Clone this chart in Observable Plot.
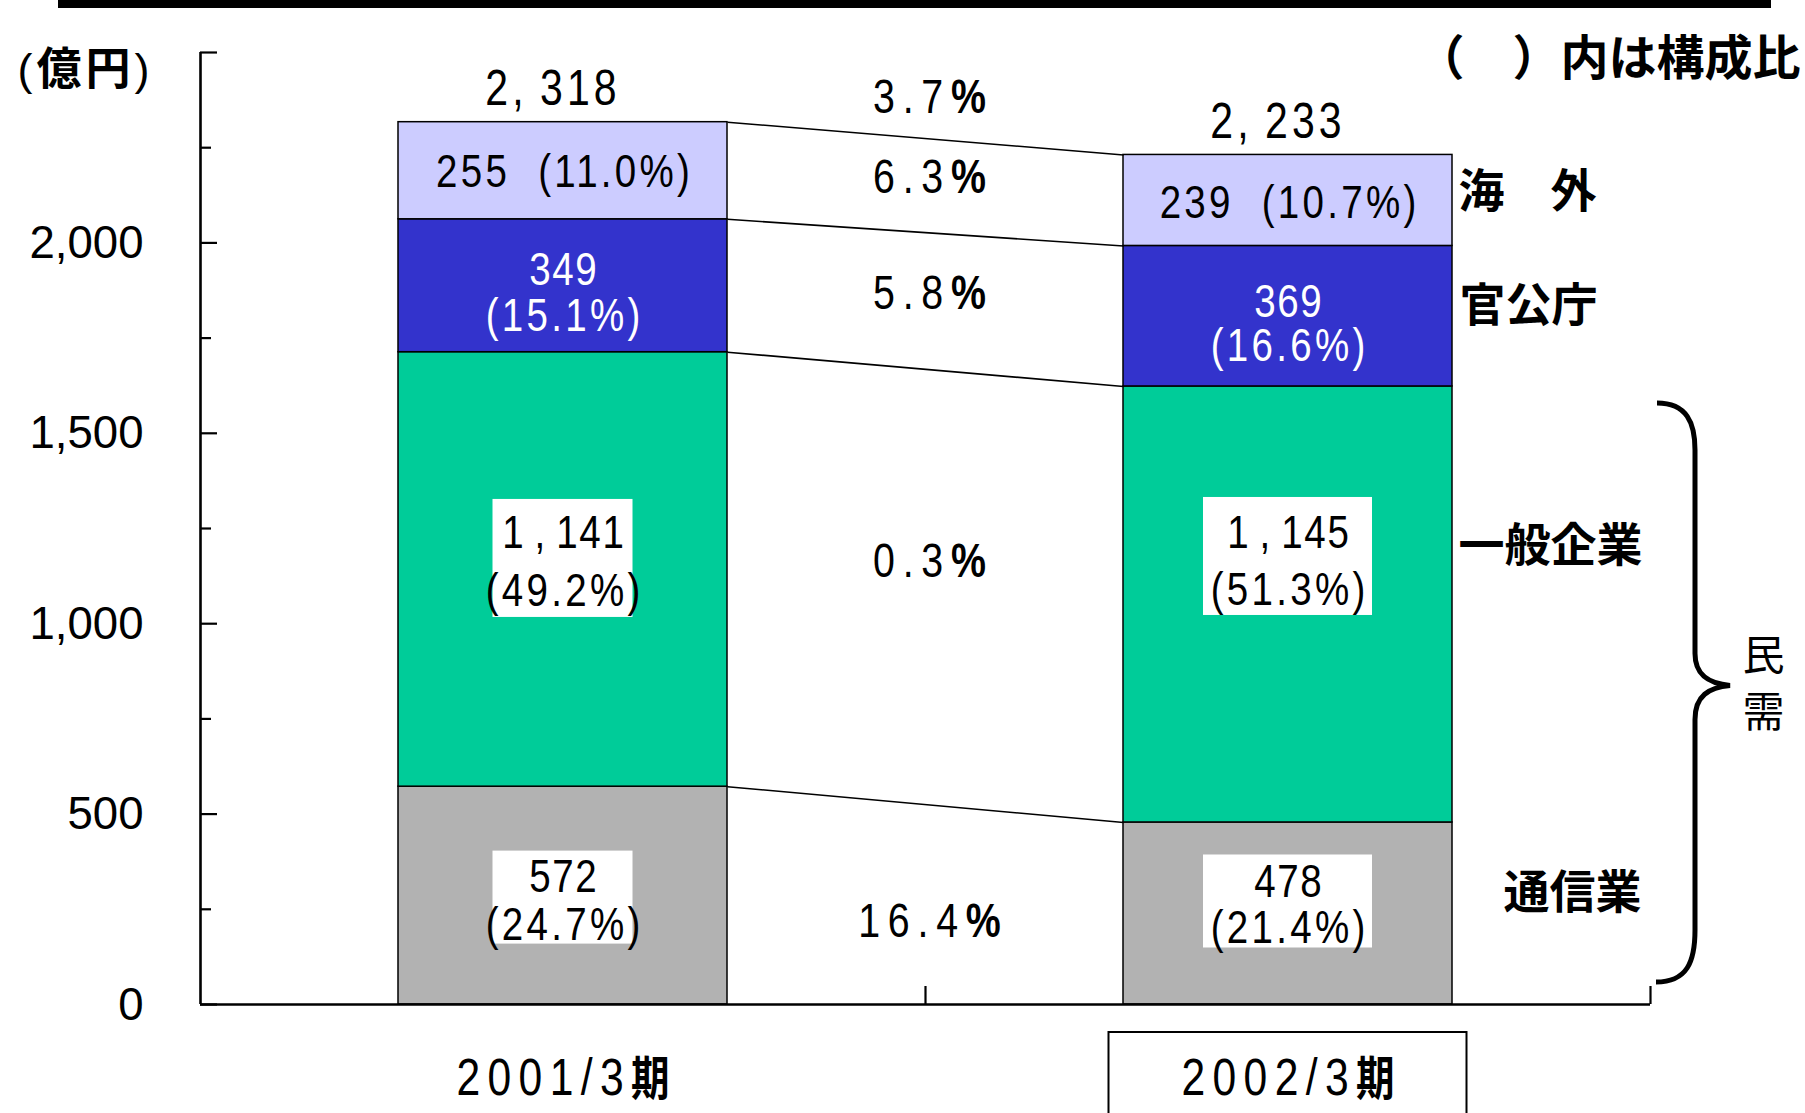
<!DOCTYPE html>
<html>
<head>
<meta charset="utf-8">
<script src="https://cdn.jsdelivr.net/npm/d3@7"></script>
<script src="https://cdn.jsdelivr.net/npm/@observablehq/plot@0.6"></script>
<style>
html, body { margin: 0; padding: 0; background: #fff; }
#chart svg { display: block; background: #fff; }
#chart svg text { white-space: pre; }
</style>
</head>
<body>
<div id="chart"></div>
<script>
// ---------------- data ----------------
const periods = ["2001/3期", "2002/3期"];
const segments = ["通信業", "一般企業", "官公庁", "海　外"];
const values2001 = [572, 1141, 349, 255];
const values2002 = [478, 1145, 369, 239];
const shares2001 = ["24.7%", "49.2%", "15.1%", "11.0%"];
const shares2002 = ["21.4%", "51.3%", "16.6%", "10.7%"];
const totals = [2318, 2233];
const growthBySegment = ["16.4%", "0.3%", "5.8%", "6.3%"];
const growthTotal = "3.7%";
const yTicks = [0, 500, 1000, 1500, 2000, 2500];
const yTickLabels = [0, 500, 1000, 1500, 2000];
const yMinorTicks = [250, 750, 1250, 1750, 2250];
const privateDemandLabel = "民需";
const unitLabel = "(億円)";
const shareNote = "（　）内は構成比";

(function () {
// ---------------- styles ----------------
const colors = ["#B2B2B2", "#00CC99", "#3333CC", "#CCCCFF"];
const SANS = "'Liberation Sans', Arial, sans-serif";
const CJK = "'Noto Sans CJK JP', 'Noto Sans CJK SC', sans-serif";
const W = 1805, H = 1113;
const mL = 200, mR = 155, mT = 52, mB = 109;
const pxPerX = (W - mL - mR) / 2;
const pxPerY = (H - mT - mB) / 2500;
const up = px => px / pxPerY;            // px -> y units
const BAR_HALF = 164.5;                  // px
const bh = BAR_HALF / pxPerX;            // x units
const NARROW_X = 0.82;                   // horizontal condensing of the number font
const tag = name => () => name;          // aria-label used to find texts for styling

// label offsets (px, positive = down) relative to segment middle
const valueDy = [[-19, -36, -16, 1], [-32, -72, -14, 3]];
const shareDy = [[29, 22, 30], [14, -15, 30]];
const boxStyle = [[{w: 140, h: 93, dy: 2}, {w: 140, h: 118, dy: -11}],
                  [{w: 169, h: 93, dy: -12}, {w: 169, h: 118, dy: -48}]];
const growthDy = [17, -25, -7, -8];
const totalGrowthDy = -41;
const nameDy = [-20, -58, -10, -8];
const nameDx = [51, 6, 7, 6];

// ---------------- derived table ----------------
const valuesByPeriod = [values2001, values2002];
const sharesByPeriod = [shares2001, shares2002];
const rows = [];
const sums = [];
periods.forEach((p, pi) => {
  let acc = 0;
  segments.forEach((s, si) => {
    const v = valuesByPeriod[pi][si];
    rows.push({period: p, pi, si, xc: pi + 0.5, segment: s, value: v,
               share: sharesByPeriod[pi][si], y1: acc, y2: acc + v, mid: acc + v / 2});
    acc += v;
  });
  sums.push(acc);
});
const rowAt = (pi, si) => rows.find(r => r.pi === pi && r.si === si);
const links = segments.map((s, si) => ({
  x1: 0.5 + bh, x2: 1.5 - bh, y1: rowAt(0, si).y2, y2: rowAt(1, si).y2
}));
const growthRows = segments.map((s, si) => ({
  text: growthBySegment[si],
  y: (rowAt(0, si).mid + rowAt(1, si).mid) / 2 - up(growthDy[si])
}));
growthRows.push({text: growthTotal, y: (sums[0] + sums[1]) / 2 - up(totalGrowthDy)});

const fmt = d3.format(",");
const fmtSeg = v => fmt(v).replace(",", "\u2009,\u2009");
const fmtTot = v => fmt(v).replace(",", ",\u2009");
const twoLine = rows.filter(r => r.si < 3);
const oneLine = rows.filter(r => r.si === 3);

const boxMarks = [];
periods.forEach((p, pi) => [0, 1].forEach(si => {
  const b = boxStyle[pi][si];
  boxMarks.push(Plot.rect([rowAt(pi, si)], {
    x1: "xc", x2: "xc",
    y1: d => d.mid - up(b.dy), y2: d => d.mid - up(b.dy),
    insetLeft: -b.w / 2, insetRight: -b.w / 2, insetTop: -b.h / 2, insetBottom: -b.h / 2,
    fill: "white"
  }));
}));

const lastRows = rows.filter(r => r.pi === 1);

const chart = Plot.plot({
  width: W, height: H,
  marginLeft: mL, marginRight: mR, marginTop: mT, marginBottom: mB,
  x: {domain: [0, 2], label: null},
  y: {domain: [0, 2500], label: null},
  color: {domain: segments, range: colors},
  style: {background: "white", color: "black"},
  marks: [
    Plot.rect(rows, {x1: "xc", x2: "xc", y1: "y1", y2: "y2", fill: "segment",
      stroke: "#000", strokeWidth: 1.5, insetLeft: -BAR_HALF, insetRight: -BAR_HALF}),
    Plot.link(links, {x1: "x1", x2: "x2", y1: "y1", y2: "y2", stroke: "#000", strokeWidth: 1.6}),
    ...boxMarks,
    // axes
    Plot.ruleX([0], {y1: 0, y2: 2500, stroke: "#000", strokeWidth: 2.6}),
    Plot.ruleY([0], {x1: 0, x2: 2, stroke: "#000", strokeWidth: 2.6}),
    Plot.axisY({ticks: yTicks, tickSize: -17, strokeWidth: 2.2, tickFormat: () => "", label: null}),
    Plot.axisY({ticks: yMinorTicks, tickSize: -11, strokeWidth: 2.2, tickFormat: () => "", label: null}),
    Plot.axisX({ticks: [1, 2], tickSize: -18, strokeWidth: 2.2, tickFormat: () => "", label: null}),
    Plot.text(yTickLabels, {x: () => 0, y: d => d, text: d => fmt(d), textAnchor: "end", dx: -57,
      fontFamily: SANS, fontSize: 47, ariaLabel: tag("ylab")}),
    // segment labels
    Plot.text(twoLine, {x: "xc", y: d => d.mid - up(valueDy[d.pi][d.si]), text: d => fmtSeg(d.value),
      fill: d => d.si === 2 ? "white" : "black", fontFamily: SANS, fontSize: 47, ariaLabel: tag("seg-value")}),
    Plot.text(twoLine, {x: "xc", y: d => d.mid - up(shareDy[d.pi][d.si]), text: d => `(${d.share})`,
      fill: d => d.si === 2 ? "white" : "black", fontFamily: SANS, fontSize: 47, ariaLabel: tag("seg-share")}),
    Plot.text(oneLine, {x: "xc", y: d => d.mid - up(valueDy[d.pi][d.si]), text: d => `${fmtSeg(d.value)}  (${d.share})`,
      fill: "black", fontFamily: SANS, fontSize: 47, ariaLabel: tag("seg-share")}),
    // totals
    Plot.text(periods, {x: (d, i) => i + 0.5, y: (d, i) => sums[i], text: (d, i) => fmtTot(totals[i]),
      dy: -33, dx: -12, fontFamily: SANS, fontSize: 50, ariaLabel: tag("total-label")}),
    // growth rates
    Plot.text(growthRows, {x: () => 1, y: "y", text: "text", dx: 4, fontFamily: SANS, fontSize: 48,
      ariaLabel: tag("growth-label")}),
    // segment names
    Plot.text(lastRows, {x: d => d.xc + bh, y: d => d.mid - up(nameDy[d.si]), text: "segment",
      textAnchor: "start", fontFamily: CJK, fontWeight: "bold", fontSize: 46, ariaLabel: tag("seg-name")}),
    // period labels
    Plot.rect([periods[1]], {x1: d => periods.indexOf(d) + 0.5, x2: d => periods.indexOf(d) + 0.5,
      y1: () => 0, y2: () => 0, insetLeft: -179, insetRight: -179, insetTop: 28, insetBottom: -140,
      fill: "none", stroke: "#000", strokeWidth: 2}),
    Plot.text(periods, {x: (d, i) => i + 0.5, y: () => 0, dy: 74, text: d => d, fontFamily: SANS,
      fontSize: 52, ariaLabel: tag("period-label")}),
    // 民需
    Plot.text([privateDemandLabel], {x: () => 2, y: () => rowAt(1, 1).y2 / 2, dx: 113, dy: -15,
      text: d => [...d].join("\n"), lineHeight: 1.36, fontFamily: CJK, fontSize: 42}),
    // unit label & note
    Plot.text([unitLabel], {x: () => 0, y: () => 2500, dx: -51, dy: 18, text: d => d, textAnchor: "end",
      fontFamily: CJK, fontSize: 45, ariaLabel: tag("unit-label")}),
    Plot.text([shareNote], {frameAnchor: "top-right", dx: 150, dy: -12, text: d => d, textAnchor: "end",
      fontFamily: CJK, fontWeight: "bold", fontSize: 48})
  ]
});

document.getElementById("chart").appendChild(chart);

// ---------- post-processing: per-character styling ----------
const NS = "http://www.w3.org/2000/svg";
function textsOf(label) {
  const set = new Set();
  chart.querySelectorAll(`[aria-label="${label}"]`).forEach(el => {
    if (el.tagName.toLowerCase() === "text") set.add(el);
    else el.querySelectorAll("text").forEach(t => set.add(t));
  });
  return [...set];
}
function condense(t, sx, ls, anchorMiddle = true) {
  const tr = t.getAttribute("transform") || "";
  const x = parseFloat(t.getAttribute("x")) || 0, y = parseFloat(t.getAttribute("y")) || 0;
  t.setAttribute("transform", `${tr} translate(${x},${y}) scale(${sx},1) translate(${-x},${-y})`);
  if (ls) {
    t.style.letterSpacing = ls + "px";
    if (anchorMiddle) t.setAttribute("dx", ls / 2);
  }
}
function splitTail(t, n, attrs) {
  const s = t.textContent;
  t.textContent = s.slice(0, s.length - n);
  const ts = document.createElementNS(NS, "tspan");
  Object.entries(attrs).forEach(([k, v]) => ts.setAttribute(k, v));
  ts.textContent = s.slice(s.length - n);
  t.appendChild(ts);
}
textsOf("growth-label").forEach(t => { splitTail(t, 1, {"font-weight": "bold"}); condense(t, NARROW_X, 9.5); });
textsOf("period-label").forEach(t => {
  splitTail(t, 1, {"font-weight": "bold", "font-family": CJK, "font-size": 47});
  condense(t, NARROW_X, 9);
});
textsOf("seg-value").forEach(t => condense(t, NARROW_X, 2));
textsOf("seg-share").forEach(t => condense(t, NARROW_X, 4));
textsOf("total-label").forEach(t => condense(t, NARROW_X, 5));
textsOf("ylab").forEach(t => condense(t, 0.97, 0, false));
textsOf("seg-name").forEach((t, i) => t.setAttribute("dx", nameDx[lastRows[i].si]));
textsOf("unit-label").forEach(t => {
  const s = t.textContent;
  t.textContent = "";
  t.style.letterSpacing = "4px";
  t.setAttribute("dx", 4);
  [...s].forEach(ch => {
    const ts = document.createElementNS(NS, "tspan");
    if (ch !== "(" && ch !== ")") ts.setAttribute("font-weight", "bold");
    else ts.setAttribute("font-family", SANS);
    ts.textContent = ch;
    t.appendChild(ts);
  });
});

// ---------- brace and top rule through Plot's scales ----------
const X = v => chart.scale("x").apply(v);
const Y = v => chart.scale("y").apply(v);
const svg = d3.select(chart);
const bTop = Y(rowAt(1, 1).y2) + 17, bBottom = Y(0) - 22, bMid = (bTop + bBottom) / 2 - 7;
const xEnd = X(2) + 7, xb = X(2) + 45, xTip = X(2) + 80;
const p = d3.path();
p.moveTo(xEnd, bTop);
p.bezierCurveTo(xb - 8, bTop, xb, bTop + 20, xb, bTop + 47);
p.lineTo(xb, bMid - 32);
p.bezierCurveTo(xb, bMid - 10, xb + 14, bMid - 2, xTip, bMid);
p.bezierCurveTo(xb + 14, bMid + 2, xb, bMid + 10, xb, bMid + 34);
p.lineTo(xb, bBottom - 52);
p.bezierCurveTo(xb, bBottom - 20, xb - 8, bBottom, xEnd - 1, bBottom);
svg.append("path").attr("d", p.toString()).attr("fill", "none").attr("stroke", "#000")
  .attr("stroke-width", 5).attr("stroke-linecap", "butt");
svg.append("rect").attr("x", X(0) - 142).attr("y", 0).attr("width", X(2) + 121 - (X(0) - 142))
  .attr("height", 8).attr("fill", "#000");
})();
</script>
</body>
</html>
